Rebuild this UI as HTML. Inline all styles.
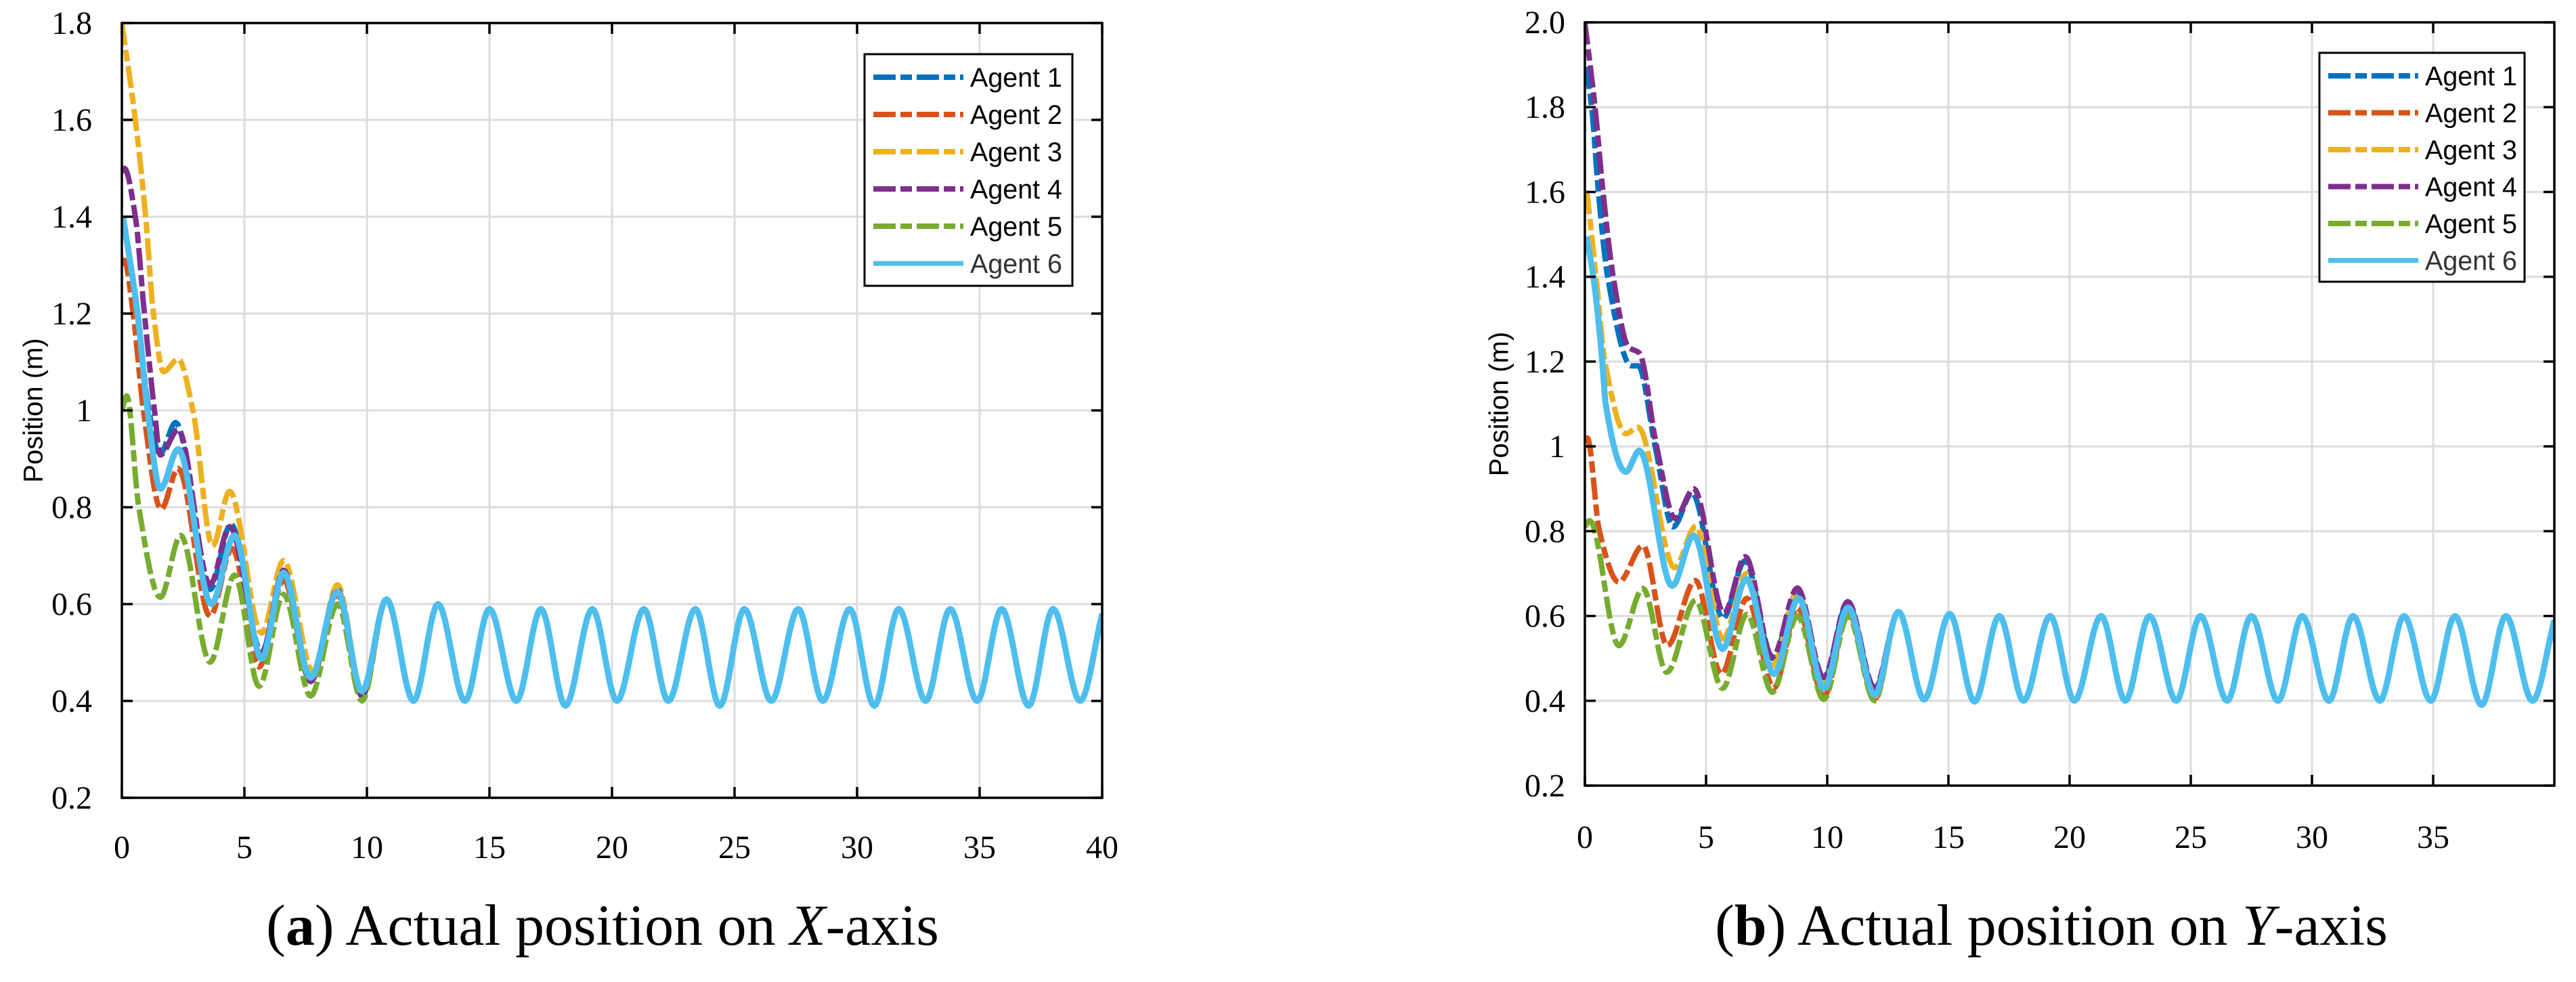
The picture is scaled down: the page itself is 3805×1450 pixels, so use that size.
<!DOCTYPE html>
<html><head><meta charset="utf-8">
<style>
html,body{margin:0;padding:0;background:#fff;}
svg{display:block;}
</style></head>
<body>
<svg id="fig" width="3805" height="1450" viewBox="0 0 3805 1450" xmlns="http://www.w3.org/2000/svg">
<g id="panelA"></g>
<g id="panelB"></g>
<text x="890" y="1395" text-anchor="middle" font-family="Liberation Serif, serif" font-size="86">(<tspan font-weight="bold">a</tspan>) Actual position on <tspan font-style="italic">X</tspan>-axis</text>
<text x="3030" y="1395" text-anchor="middle" font-family="Liberation Serif, serif" font-size="86">(<tspan font-weight="bold">b</tspan>) Actual position on <tspan font-style="italic">Y</tspan>-axis</text>
</svg>
<script>
// ---------- DATA ----------
const agentNames = ["Agent 1","Agent 2","Agent 3","Agent 4","Agent 5","Agent 6"];
const agentColors = ["#0072BD","#D95319","#EDB120","#7E2F8E","#77AC30","#4DBEEE"];

// Panel (a): X-axis
const xTicksA = [0,5,10,15,20,25,30,35,40];
const xTickLabelsA = ["0","5","10","15","20","25","30","35","40"];
const yTicksA = [0.2,0.4,0.6,0.8,1.0,1.2,1.4,1.6,1.8];
const yTickLabelsA = ["0.2","0.4","0.6","0.8","1","1.2","1.4","1.6","1.8"];
const steadyTA = [10.8,11.9,12.9,14.0,15.0,16.1,17.1,18.1,19.2,20.2,21.3,22.3,23.4,24.4,25.4,26.5,27.6,28.6,29.7,30.7,31.7,32.8,33.8,34.9,35.9,37.0,38.0,39.1,40.0];
const steadyVA = [0.61,0.40,0.60,0.40,0.59,0.40,0.59,0.39,0.59,0.40,0.59,0.40,0.59,0.39,0.59,0.40,0.59,0.40,0.59,0.39,0.59,0.40,0.59,0.40,0.59,0.39,0.59,0.40,0.58];
const a1TA = [0.05,0.6,1.1,1.55,2.2,3.6,4.45,5.7,6.6,7.7,8.8,9.8];
const a1VA = [1.40,1.22,1.0,0.91,0.975,0.63,0.765,0.50,0.665,0.445,0.63,0.41];
const a2TA = [0.0,0.1,0.46,0.88,1.6,2.3,3.6,4.5,5.6,6.6,7.7,8.8,9.8];
const a2VA = [1.30,1.31,1.2,1.0,0.796,0.88,0.575,0.715,0.47,0.65,0.44,0.62,0.41];
const a3TA = [0.0,0.55,0.97,1.29,1.7,2.3,2.9,3.7,4.4,5.7,6.6,7.8,8.8,9.8];
const a3VA = [1.80,1.60,1.40,1.20,1.08,1.106,1.0,0.72,0.833,0.54,0.69,0.46,0.64,0.42];
const a4TA = [0.05,0.1,0.55,0.92,1.33,1.57,2.3,3.6,4.4,5.7,6.6,7.7,8.8,9.8];
const a4VA = [1.49,1.50,1.40,1.20,1.0,0.908,0.96,0.64,0.76,0.50,0.67,0.44,0.63,0.41];
const a5TA = [0.0,0.2,0.69,1.57,2.4,3.6,4.6,5.6,6.6,7.7,8.8,9.8];
const a5VA = [1.00,1.03,0.80,0.614,0.742,0.48,0.66,0.43,0.62,0.41,0.60,0.40];
const a6TA = [0.05,0.64,1.05,1.57,2.3,3.65,4.6,5.7,6.6,7.7,8.8,9.8];
const a6VA = [1.40,1.20,1.0,0.838,0.92,0.60,0.742,0.487,0.665,0.448,0.626,0.42];

// Panel (b): Y-axis
const xTicksB = [0,5,10,15,20,25,30,35];
const xTickLabelsB = ["0","5","10","15","20","25","30","35"];
const yTicksB = [0.2,0.4,0.6,0.8,1.0,1.2,1.4,1.6,1.8,2.0];
const yTickLabelsB = ["0.2","0.4","0.6","0.8","1","1.2","1.4","1.6","1.8","2.0"];
const steadyTB = [12.94,14.0,15.05,16.08,17.1,18.1,19.2,20.2,21.3,22.3,23.3,24.4,25.4,26.5,27.5,28.6,29.6,30.7,31.7,32.8,33.8,34.9,35.9,37.0,38.0,39.1,40.0];
const steadyVB = [0.61,0.403,0.605,0.398,0.60,0.40,0.60,0.40,0.60,0.40,0.60,0.40,0.60,0.40,0.60,0.40,0.60,0.40,0.60,0.40,0.60,0.40,0.60,0.39,0.60,0.40,0.59];
const b1TB = [0.05,0.28,0.56,0.94,1.92,2.2,2.9,3.64,4.43,5.7,6.6,7.74,8.77,9.85,10.85,11.96];
const b1VB = [1.895,1.80,1.60,1.40,1.19,1.19,1.0,0.81,0.89,0.594,0.73,0.50,0.655,0.45,0.63,0.425];
const b2TB = [0.03,0.1,0.6,1.4,2.4,3.4,4.56,5.63,6.69,7.8,8.77,9.86,10.86,11.96];
const b2VB = [1.014,1.02,0.80,0.68,0.766,0.53,0.684,0.463,0.642,0.43,0.62,0.41,0.61,0.405];
const b3TB = [0.09,0.46,0.83,1.69,2.2,3.7,4.58,5.7,6.66,7.74,8.77,9.86,10.86,11.96];
const b3VB = [1.60,1.40,1.20,1.03,1.045,0.714,0.812,0.546,0.70,0.482,0.654,0.44,0.62,0.41];
const b4TB = [0.0,0.42,0.75,1.17,1.8,2.25,2.96,3.72,4.5,5.74,6.62,7.74,8.77,9.85,10.85,11.96];
const b4VB = [2.00,1.80,1.60,1.40,1.234,1.22,1.0,0.83,0.90,0.607,0.74,0.503,0.666,0.455,0.634,0.43];
const b5TB = [0.0,0.2,1.4,2.4,3.38,4.56,5.68,6.69,7.74,8.77,9.86,10.86,11.96];
const b5VB = [0.81,0.825,0.53,0.665,0.467,0.637,0.429,0.604,0.42,0.60,0.403,0.60,0.40];
const b6TB = [0.06,0.35,0.72,0.86,1.69,2.25,3.6,4.49,5.68,6.66,7.8,8.82,9.86,10.86,11.96];
const b6VB = [1.495,1.40,1.20,1.10,0.94,0.99,0.671,0.79,0.522,0.687,0.463,0.642,0.429,0.62,0.414];

// ---------- DRAWING ----------
const NS = "http://www.w3.org/2000/svg";
function mk(tag, attrs, parent){
  const e = document.createElementNS(NS, tag);
  for (const k in attrs) e.setAttribute(k, attrs[k]);
  parent.appendChild(e);
  return e;
}
function monotone(ts, vs){
  const n = ts.length, d = [], m = new Array(n);
  for (let i=0;i<n-1;i++) d.push((vs[i+1]-vs[i])/(ts[i+1]-ts[i]));
  m[0]=d[0]; m[n-1]=d[n-2];
  for (let i=1;i<n-1;i++){
    if (d[i-1]*d[i] <= 0) m[i]=0;
    else { const w1=2*(ts[i+1]-ts[i])+(ts[i]-ts[i-1]), w2=(ts[i+1]-ts[i])+2*(ts[i]-ts[i-1]);
      m[i]=(w1+w2)/(w1/d[i-1]+w2/d[i]); }
  }
  const out=[];
  for (let i=0;i<n-1;i++){
    const h=ts[i+1]-ts[i];
    for (let k=0;k<16;k++){
      const s=k/16, h00=2*s*s*s-3*s*s+1, h10=s*s*s-2*s*s+s, h01=-2*s*s*s+3*s*s, h11=s*s*s-s*s;
      out.push([ts[i]+s*h, h00*vs[i]+h10*h*m[i]+h01*vs[i+1]+h11*h*m[i+1]]);
    }
  }
  out.push([ts[n-1], vs[n-1]]);
  return out;
}

function drawPanel(g, cfg, series, steadyT, steadyV, xTicks, xLabels, yTicks, yLabels, id){
  const L=cfg.left,R=cfg.right,T=cfg.top,B=cfg.bottom;
  const xs = t => L + (t-cfg.xmin)/(cfg.xmax-cfg.xmin)*(R-L);
  const ys = v => B - (v-cfg.ymin)/(cfg.ymax-cfg.ymin)*(B-T);
  const clip = mk("clipPath",{id:"clip"+id},g);
  mk("rect",{x:L,y:T,width:R-L,height:B-T},clip);
  const grid = mk("g",{},g);
  
  
  xTicks.forEach(t=>{ if(t>cfg.xmin && t<cfg.xmax) mk("line",{x1:xs(t),x2:xs(t),y1:T,y2:B,stroke:"#dcdcdc","stroke-width":3},grid); });
  yTicks.forEach(v=>{ if(v>cfg.ymin && v<cfg.ymax) mk("line",{x1:L,x2:R,y1:ys(v),y2:ys(v),stroke:"#dcdcdc","stroke-width":3},grid); });
  const lines = mk("g",{"clip-path":"url(#clip"+id+")"},g);
  series.forEach((s,i)=>{
    const ts=s[0].slice(), vs=s[1].slice();
    const last=ts[ts.length-1];
    steadyT.forEach((t,j)=>{ if(t>last+0.3){ ts.push(t); vs.push(steadyV[j]); } });
    const pts = monotone(ts,vs);
    const d = pts.map((p,k)=>(k?"L":"M")+xs(p[0]).toFixed(1)+" "+ys(p[1]).toFixed(1)).join("");
    const p = mk("path",{d:d,fill:"none",stroke:agentColors[i],"stroke-width":i==5?9:8,"stroke-linejoin":"round"},lines);
    if(i<5) p.setAttribute("stroke-dasharray","33 7 17 7");
    
    
  });
  const axes = mk("g",{},g);
  
  
  mk("rect",{x:L,y:T,width:R-L,height:B-T,fill:"none",stroke:"#000","stroke-width":3.5},axes);
  xTicks.forEach(t=>{ const x=xs(t);
    mk("line",{x1:x,x2:x,y1:B,y2:B-16,stroke:"#000","stroke-width":3.5},axes);
    mk("line",{x1:x,x2:x,y1:T,y2:T+16,stroke:"#000","stroke-width":3.5},axes); });
  yTicks.forEach(v=>{ const y=ys(v);
    mk("line",{x1:L,x2:L+16,y1:y,y2:y,stroke:"#000","stroke-width":3.5},axes);
    mk("line",{x1:R,x2:R-16,y1:y,y2:y,stroke:"#000","stroke-width":3.5},axes); });
  xTicks.forEach((t,i)=>{
    const tx = mk("text",{x:xs(t),y:B+cfg.xlabOff,"text-anchor":"middle","font-family":"Liberation Serif, serif","font-size":cfg.tickFont},g);
    tx.textContent = xLabels[i];
    
    
  });
  yTicks.forEach((v,i)=>{
    const ty = mk("text",{x:cfg.ylabRight,y:ys(v)+16,"text-anchor":"end","font-family":"Liberation Serif, serif","font-size":cfg.tickFont},g);
    ty.textContent = yLabels[i];
    
    
  });
  const yt = mk("text",{x:cfg.ytitleX,y:(T+B)/2,transform:"rotate(-90 "+cfg.ytitleX+" "+(T+B)/2+")","text-anchor":"middle","font-family":"Liberation Sans, sans-serif","font-size":40,"dominant-baseline":"middle"},g);
  yt.textContent = "Position (m)";
  
  
  // legend
  const lg = mk("g",{},g);
  
  
  mk("rect",{x:cfg.legX,y:cfg.legY,width:cfg.legW,height:cfg.legH,fill:"#fff",stroke:"#000","stroke-width":3},lg);
  agentNames.forEach((nm,i)=>{
    const cy = cfg.legY+34+i*cfg.legStep;
    const e = mk("g",{},lg);
    
    
    const ln = mk("line",{x1:cfg.legX+13,x2:cfg.legX+146,y1:cy,y2:cy,stroke:agentColors[i],"stroke-width":i==5?7:8},e);
    if(i<5) ln.setAttribute("stroke-dasharray","33 7 17 7");
    const lt = mk("text",{x:cfg.legX+156,y:cy+14,"font-family":"Liberation Sans, sans-serif","font-size":40,textLength:136,lengthAdjust:"spacingAndGlyphs",fill:i==5?"#333":"#000"},e);
    lt.textContent = nm;
  });
}

drawPanel(document.getElementById("panelA"),
  {left:180,right:1628,top:34,bottom:1178,xmin:0,xmax:40,ymin:0.2,ymax:1.8,xlabOff:89,tickFont:48,ylabRight:136,ytitleX:52,
   legX:1277,legY:80,legW:307,legH:342,legStep:55},
  [[a1TA,a1VA],[a2TA,a2VA],[a3TA,a3VA],[a4TA,a4VA],[a5TA,a5VA],[a6TA,a6VA]],
  steadyTA,steadyVA,xTicksA,xTickLabelsA,yTicksA,yTickLabelsA,"A");

drawPanel(document.getElementById("panelB"),
  {left:2341,right:3773,top:33,bottom:1160,xmin:0,xmax:40,ymin:0.2,ymax:2.0,xlabOff:92,tickFont:48,ylabRight:2312,ytitleX:2217,
   legX:3426,legY:78,legW:303,legH:338,legStep:54.5},
  [[b1TB,b1VB],[b2TB,b2VB],[b3TB,b3VB],[b4TB,b4VB],[b5TB,b5VB],[b6TB,b6VB]],
  steadyTB,steadyVB,xTicksB,xTickLabelsB,yTicksB,yTickLabelsB,"B");
</script>
</body></html>
